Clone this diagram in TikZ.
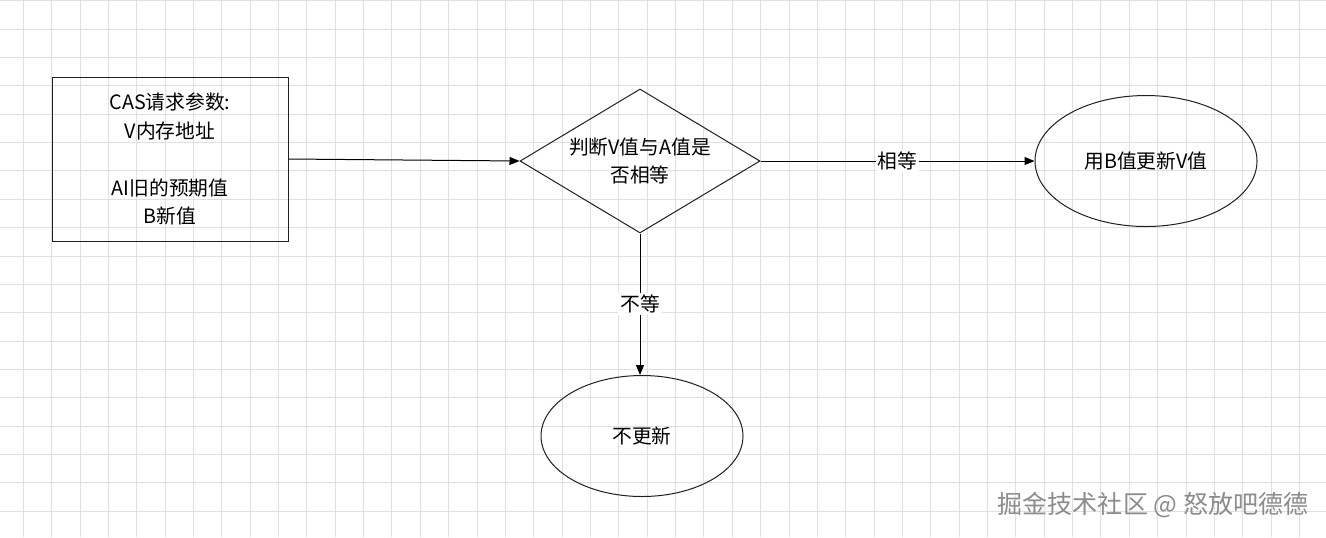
\documentclass[tikz,border=0pt]{standalone}
\usepackage{fontspec}
\setmainfont{Noto Sans CJK SC}
\usetikzlibrary{arrows.meta,shapes,positioning,calc}
\definecolor{gridc}{RGB}{224,224,224}
\definecolor{linec}{RGB}{30,30,45}
\definecolor{markc}{RGB}{140,140,140}

\begin{document}
\begin{tikzpicture}[x=0.75pt,y=-0.75pt,>={Triangle[length=7.5pt,width=6pt]},
  line width=0.75pt,font=\fontsize{14.8}{21.4}\selectfont,
  box/.style={draw=linec,rectangle,minimum width=177pt,minimum height=123pt,inner sep=0pt,align=center},
  test/.style={draw=linec,diamond,minimum width=180pt,minimum height=108pt,inner sep=0pt},
  oval/.style={draw=linec,ellipse,inner sep=0pt},
  flow/.style={->,draw=black},
  tag/.style={fill=white,inner sep=1.5pt}]
\useasboundingbox (0,0) rectangle (1326,537);
% grid background
\fill[white] (0,0) rectangle (1326,537);
\foreach \i in {0,...,45} \draw[gridc] ({23.3+28.36*\i},0) -- ({23.3+28.36*\i},537);
\foreach \j in {0,...,18} \draw[gridc] (0,{0.8+28.36*\j}) -- (1326,{0.8+28.36*\j});
% shapes
\node[box] (req) at (170,159) {CAS请求参数:\\V内存地址\\[21.4pt]AI旧的预期值\\B新值};
\node[test,label={[align=center]center:判断V值与A值是\\否相等}] (judge) at (640,161) {};
\node[oval,minimum width=166.5pt,minimum height=98.25pt] (upd) at (1146,161) {用B值更新V值};
\node[oval,minimum width=151.5pt,minimum height=90.75pt] (noupd) at (642,436) {不更新};
% connectors
\draw[flow] (req.east) -- (judge.west);
\draw[flow] (judge.east) -- node[tag] {相等} (upd.west);
\draw[flow] (judge.south) -- node[tag] {不等} (judge.south |- noupd.north);
% watermark
\node[text=markc,font=\fontsize{18.8}{22}\selectfont] (mark) at (1153,505) {掘金技术社区 @ 怒放吧德德};
\end{tikzpicture}
\end{document}
